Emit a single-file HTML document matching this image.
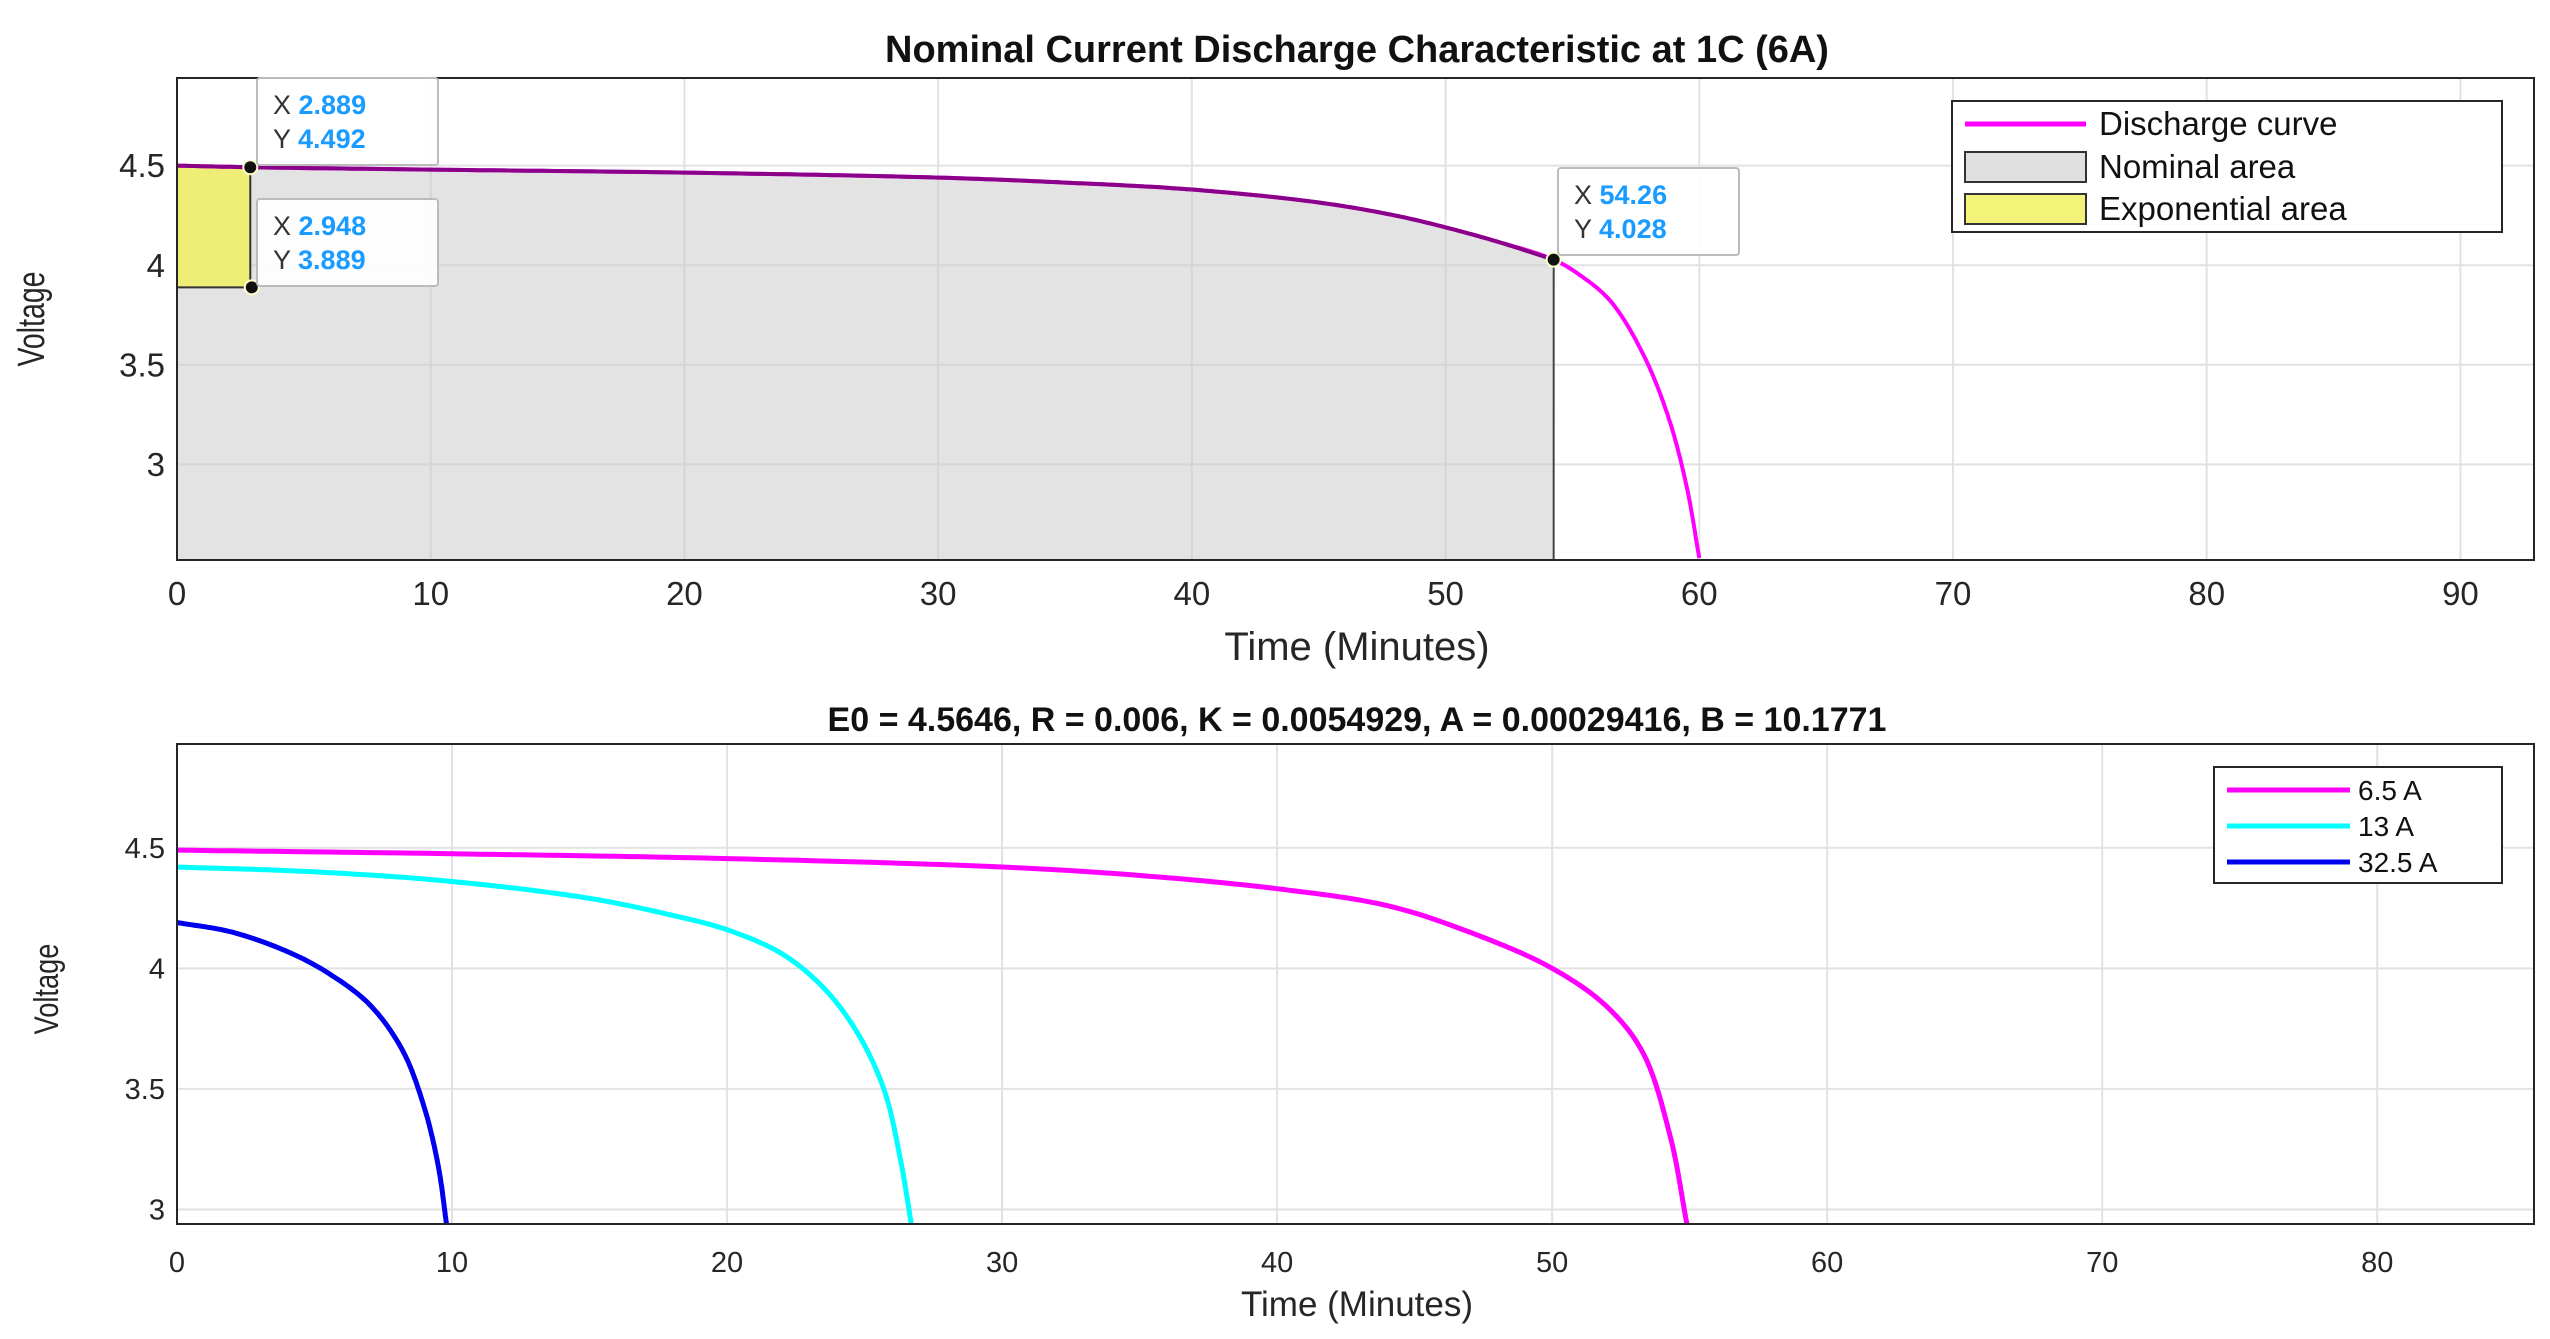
<!DOCTYPE html>
<html><head><meta charset="utf-8"><style>
body{margin:0;background:#fff;}
svg{display:block;font-family:"Liberation Sans",Arial,sans-serif;}
</style></head><body>
<svg id="c" width="2550" height="1339" viewBox="0 0 2550 1339"></svg>
<script>
// ---- data ----
const topTicksX = [0,10,20,30,40,50,60,70,80,90];
const topTicksY = [3,3.5,4,4.5];
const topTickLabelsY = ["3","3.5","4","4.5"];
const dischargeT = [0,2.889,10,20,30,35,40,45,48,50,52,54.26,55.3,56.5,57.8,58.8,59.5,60];
const dischargeV = [4.50,4.492,4.48,4.465,4.44,4.415,4.38,4.315,4.25,4.19,4.12,4.028,3.95,3.82,3.55,3.23,2.89,2.53];
const nominalEnd = 54.26;
const expEnd = 2.889;
const expBottom = 3.889;
const botTicksX = [0,10,20,30,40,50,60,70,80];
const botTicksY = [3,3.5,4,4.5];
const botTickLabelsY = ["3","3.5","4","4.5"];
const t65 = [0,10,20,30,35,40,44,47,50,52,53.3,54.3,54.9];
const v65 = [4.49,4.475,4.455,4.42,4.385,4.33,4.26,4.15,4.0,3.84,3.65,3.30,2.94];
const t13 = [0,5,10,15,18,20,22,23.5,24.7,25.7,26.3,26.7];
const v13 = [4.42,4.40,4.36,4.29,4.22,4.16,4.06,3.92,3.74,3.50,3.21,2.94];
const t325 = [0,2,4,5.5,7,8.2,9.0,9.5,9.8];
const v325 = [4.19,4.15,4.07,3.98,3.85,3.66,3.42,3.18,2.94];

const NS="http://www.w3.org/2000/svg", svg=document.getElementById('c');
function el(tag,attrs,parent,txt){const e=document.createElementNS(NS,tag);for(const k in attrs)e.setAttribute(k,attrs[k]);if(txt!==undefined)e.textContent=txt;(parent||svg).appendChild(e);return e;}
function mk(L,R,T,B,x0,x1,y0,y1){return{L,R,T,B,x:v=>L+(v-x0)/(x1-x0)*(R-L),y:v=>B-(v-y0)/(y1-y0)*(B-T)};}
function smoothPts(P){
  const out=[P[0]];
  const ext=[[2*P[0][0]-P[1][0],2*P[0][1]-P[1][1]],...P,[2*P[P.length-1][0]-P[P.length-2][0],2*P[P.length-1][1]-P[P.length-2][1]]];
  const dist=(a,b)=>Math.max(1e-4,Math.pow(Math.hypot(b[0]-a[0],b[1]-a[1]),0.5));
  for(let i=1;i<ext.length-2;i++){
    const p0=ext[i-1],p1=ext[i],p2=ext[i+1],p3=ext[i+2];
    const t0=0,t1=t0+dist(p0,p1),t2=t1+dist(p1,p2),t3=t2+dist(p2,p3);
    for(let s=1;s<=20;s++){
      const t=t1+(t2-t1)*s/20;
      const L=(a,b,ta,tb)=>[a[0]*(tb-t)/(tb-ta)+b[0]*(t-ta)/(tb-ta),a[1]*(tb-t)/(tb-ta)+b[1]*(t-ta)/(tb-ta)];
      const A1=L(p0,p1,t0,t1),A2=L(p1,p2,t1,t2),A3=L(p2,p3,t2,t3);
      const B1=L(A1,A2,t0,t2),B2=L(A2,A3,t1,t3);
      out.push(L(B1,B2,t1,t2));
    }
  }
  return 'M'+out.map(p=>p[0].toFixed(1)+','+p[1].toFixed(1)).join(' L');
}
function pathOf(ax,ts,vs){return smoothPts(ts.map((t,i)=>[ax.x(t),ax.y(vs[i])]));}
function interp(ts,vs,t){for(let i=1;i<ts.length;i++){if(t<=ts[i]){const f=(t-ts[i-1])/(ts[i]-ts[i-1]);return vs[i-1]+f*(vs[i]-vs[i-1]);}}return vs[vs.length-1];}
function frame(ax,ticksX,ticksY,labsY,fs,tickY){
  let g=el('g',{});
  ticksX.forEach(t=>{el('line',{x1:ax.x(t),x2:ax.x(t),y1:ax.T,y2:ax.B,stroke:'#e2e2e2','stroke-width':2},g);});
  ticksY.forEach(t=>{el('line',{x1:ax.L,x2:ax.R,y1:ax.y(t),y2:ax.y(t),stroke:'#e2e2e2','stroke-width':2},g);});
  let tg=el('g',{'font-size':fs,fill:'#262626'});
  ticksX.forEach(t=>{el('text',{x:ax.x(t),y:tickY,'text-anchor':'middle'},tg,String(t));});
  ticksY.forEach((t,i)=>{el('text',{x:ax.L-12,y:ax.y(t)+fs*0.35,'text-anchor':'end'},tg,labsY[i]);});
}
function box(ax){
  const b=el('rect',{x:ax.L,y:ax.T,width:ax.R-ax.L,height:ax.B-ax.T,fill:'none',stroke:'#262626','stroke-width':2});
  
}

// ---- top plot ----
const A=mk(177,2534,78,560,0,92.9,2.52,4.94);
frame(A,topTicksX,topTicksY,topTickLabelsY,33,605);
let nt=dischargeT.filter(t=>t<=nominalEnd), nv=nt.map(t=>interp(dischargeT,dischargeV,t));
let curveTop=pathOf(A,nt,nv);
let nd=curveTop+' L'+A.x(nominalEnd)+','+A.B+' L'+A.x(0)+','+A.B+' Z';
const nom=el('path',{d:nd,fill:'rgba(200,200,200,0.5)',stroke:'#444','stroke-width':2});

const ev=interp(dischargeT,dischargeV,expEnd);
const ed='M'+A.x(0)+','+A.y(expBottom)+' L'+A.x(0)+','+A.y(dischargeV[0])+' L'+A.x(expEnd)+','+A.y(ev)+' L'+A.x(expEnd)+','+A.y(expBottom)+' Z';
const exa=el('path',{d:ed,fill:'#eeee77',stroke:'#333','stroke-width':2});

const dc=el('path',{d:pathOf(A,dischargeT,dischargeV),fill:'none',stroke:'#ff00ff','stroke-width':4});

const dcd=el('path',{d:curveTop,fill:'none',stroke:'#8a008a','stroke-width':4});

box(A);
function tip(px,py,bx,by,xs,ys,name){
  const g=el('g',{});
  el('circle',{cx:px,cy:py,r:7,fill:'#111',stroke:'#ffffcc','stroke-width':2},g);
  el('rect',{x:bx,y:by,width:181,height:87,fill:'rgba(255,255,255,0.93)',stroke:'#bbb','stroke-width':2,rx:3},g);
  const t1=el('text',{x:bx+16,y:by+36,'font-size':27,fill:'#333'},g,'X ');
  el('tspan',{fill:'#1a9bff','font-weight':'bold'},t1,xs);
  const t2=el('text',{x:bx+16,y:by+70,'font-size':27,fill:'#333'},g,'Y ');
  el('tspan',{fill:'#1a9bff','font-weight':'bold'},t2,ys);
}
tip(A.x(2.889),A.y(4.492),257,78,'2.889','4.492','datatip-1');
tip(A.x(2.948),A.y(3.889),257,199,'2.948','3.889','datatip-2');
tip(A.x(54.26),A.y(4.028),1558,168,'54.26','4.028','datatip-3');
const lg=el('g',{});
el('rect',{x:1952,y:101,width:550,height:131,fill:'#fff',stroke:'#262626','stroke-width':2},lg);
el('line',{x1:1965,x2:2086,y1:124,y2:124,stroke:'#ff00ff','stroke-width':5},lg);
el('rect',{x:1965,y:152,width:121,height:30,fill:'#e0e0e0',stroke:'#333','stroke-width':2},lg);
el('rect',{x:1965,y:194,width:121,height:30,fill:'#f3f37a',stroke:'#333','stroke-width':2},lg);
[['Discharge curve',135],['Nominal area',178],['Exponential area',220]].forEach(([s,y])=>{el('text',{x:2099,y:y,'font-size':33,fill:'#111'},lg,s);});
const t1=el('text',{x:1357,y:62,'font-size':38,'font-weight':'bold','text-anchor':'middle',fill:'#111'},svg,'Nominal Current Discharge Characteristic at 1C (6A)');

const xl1=el('text',{x:1357,y:660,'font-size':40,'text-anchor':'middle',fill:'#262626'},svg,'Time (Minutes)');

const yl1=el('text',{x:0,y:0,'font-size':38,'text-anchor':'middle',fill:'#262626',transform:'translate(44,319) rotate(-90) scale(0.75,1)'},svg,'Voltage');


// ---- bottom plot ----
const B=mk(177,2534,744,1224,0,85.7,2.94,4.93);
frame(B,botTicksX,botTicksY,botTickLabelsY,29,1272);
[[t325,v325,'#0000ee','series-32-5a'],[t13,v13,'#00ffff','series-13a'],[t65,v65,'#ff00ff','series-6-5a']].forEach(([t,v,c,n])=>{
  const p=el('path',{d:pathOf(B,t,v),fill:'none',stroke:c,'stroke-width':5});
  
});
box(B);
const lb=el('g',{});
el('rect',{x:2214,y:767,width:288,height:116,fill:'#fff',stroke:'#262626','stroke-width':2},lb);
[['6.5 A','#ff00ff',790],['13 A','#00ffff',826],['32.5 A','#0000ee',862]].forEach(([s,c,y])=>{
  el('line',{x1:2227,x2:2350,y1:y,y2:y,stroke:c,'stroke-width':5},lb);
  el('text',{x:2358,y:y+10,'font-size':28,fill:'#111'},lb,s);
});
const t2=el('text',{x:1357,y:731,'font-size':34,'font-weight':'bold','text-anchor':'middle',fill:'#111'},svg,'E0 = 4.5646, R = 0.006, K = 0.0054929, A = 0.00029416, B = 10.1771');

const xl2=el('text',{x:1357,y:1316,'font-size':35,'text-anchor':'middle',fill:'#262626'},svg,'Time (Minutes)');

const yl2=el('text',{x:0,y:0,'font-size':34,'text-anchor':'middle',fill:'#262626',transform:'translate(58,989) rotate(-90) scale(0.8,1)'},svg,'Voltage');

</script>
</body></html>
